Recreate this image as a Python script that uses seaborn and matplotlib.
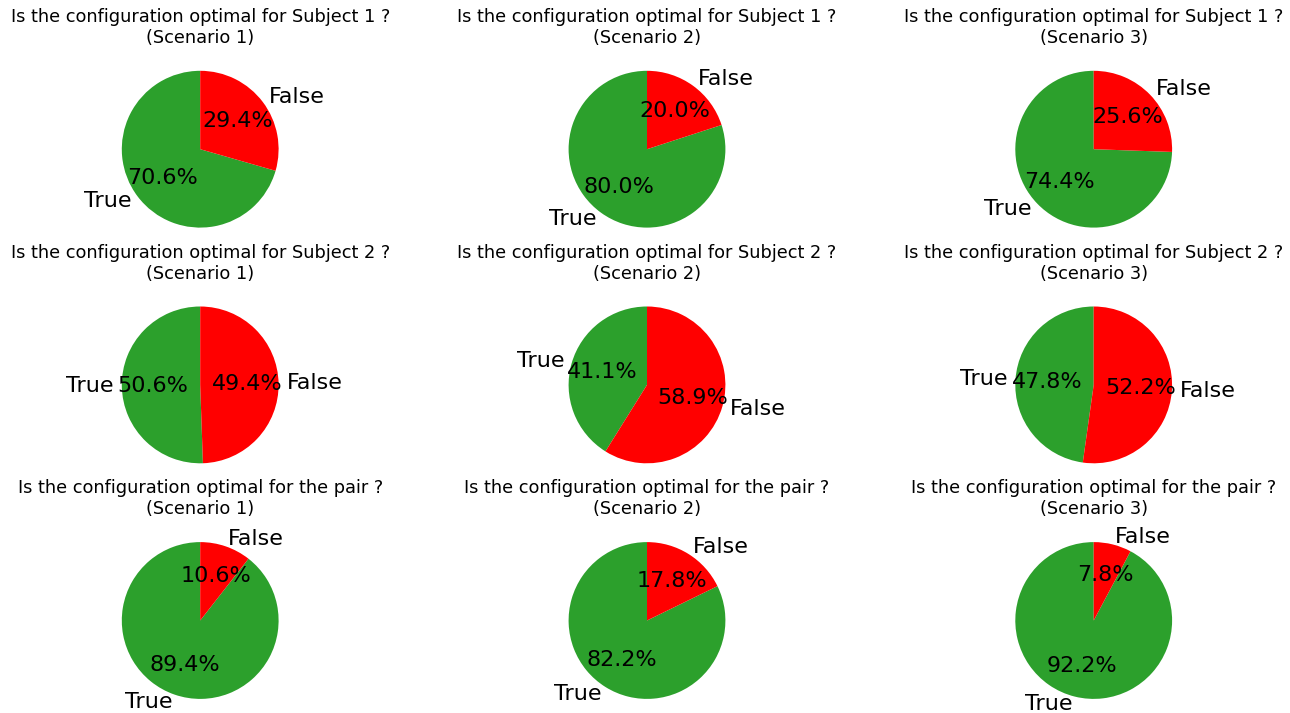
import matplotlib
matplotlib.use("Agg")
import matplotlib.pyplot as plt
import seaborn as sns

sns.set_theme(style="white", rc={"text.color": "black", "axes.titlecolor": "black"})
plt.rcParams["font.family"] = ["DejaVu Sans"]

# Answer counts per question (rows) and scenario (columns)
questions = [
    "Is the configuration optimal for Subject 1 ?",
    "Is the configuration optimal for Subject 2 ?",
    "Is the configuration optimal for the pair ?",
]
scenarios = ["Scenario 1", "Scenario 2", "Scenario 3"]
answer_labels = ["True", "False"]

true_counts = [
    [127, 144, 134],
    [91, 74, 86],
    [161, 148, 166],
]
false_counts = [
    [53, 36, 46],
    [89, 106, 94],
    [19, 32, 14],
]

green = sns.color_palette("tab10")[2]
colors = [green, "red"]

W, H = 1290, 713
fig = plt.figure(figsize=(W / 100, H / 100), dpi=100)

box = 196.0          # axes box side in pixels
col_centers = [200.2, 647.0, 1093.7]
row_centers = [149.2, 384.9, 620.5]

for i, q in enumerate(questions):
    for j, sc in enumerate(scenarios):
        cx, cy = col_centers[j], row_centers[i]
        ax = fig.add_axes([(cx - box / 2) / W, 1 - (cy + box / 2) / H, box / W, box / H])
        ax.pie(
            [true_counts[i][j], false_counts[i][j]],
            labels=answer_labels,
            colors=colors,
            autopct="%1.1f%%",
            startangle=90,
            wedgeprops={"linewidth": 0, "edgecolor": "none"},
            textprops={"fontsize": 16, "color": "black"},
        )
        ax.set_aspect("equal")
        ax.set_title(f"{q}\n({sc})", fontsize=12.8, color="black")

fig.savefig("out.png", dpi=100)
